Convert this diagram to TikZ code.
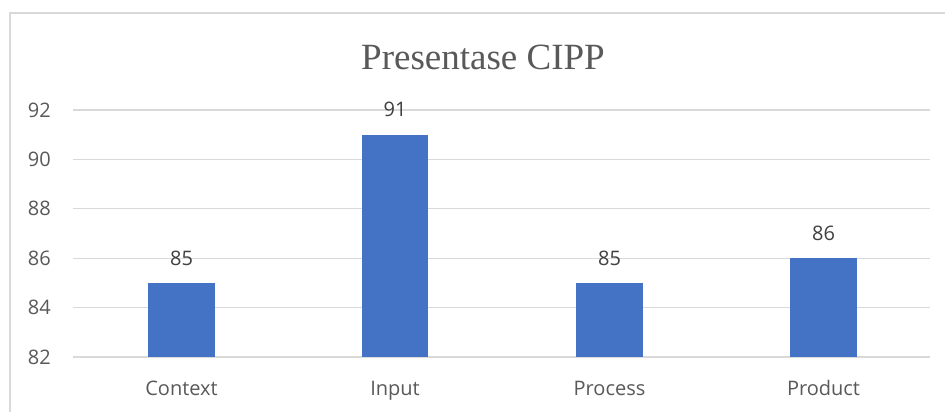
\documentclass[tikz,border=0pt]{standalone}
\usepackage{fontspec}
\setmainfont{Open Sans}
\newfontfamily\titlefont{Liberation Serif}
\definecolor{barblue}{HTML}{4472C4}
\definecolor{gridgray}{HTML}{D9D9D9}
\definecolor{txtgray}{HTML}{595959}
\definecolor{valgray}{HTML}{404040}
\begin{document}
\begin{tikzpicture}[x=1pt,y=-1pt,
  gridline/.style={draw=gridgray,line width=1.3pt},
  bar/.style={fill=barblue,draw=none},
  axislabel/.style={anchor=east,text=txtgray,font=\fontsize{20}{24}\selectfont,inner sep=0pt},
  catlabel/.style={text=txtgray,font=\fontsize{20}{24}\selectfont,inner sep=0pt,text height=15pt,text depth=5pt},
  vallabel/.style={text=valgray,font=\fontsize{20}{24}\selectfont,inner sep=0pt}]
\useasboundingbox (0,0) rectangle (945,412);
\fill[white] (0,0) rectangle (945,412);
% chart frame
\draw[gridgray,line width=1.2pt] (10,412) -- (10,13) -- (945,13);
% title
\node[text=txtgray,font=\titlefont\fontsize{37}{40}\selectfont,inner sep=0pt] (title) at (483,57) {Presentase CIPP};
% gridlines and axis labels
\foreach \v/\y in {92/110,90/159.4,88/208.8,86/258.2,84/307.6,82/357} {
  \draw[gridline] (73,\y) -- (930,\y);
  \node[axislabel] (ax\v) at (51,\y) {\v};
}
% bars
\fill[bar] (148,283.1) rectangle (215,357);
\fill[bar] (362,134.7) rectangle (428,357);
\fill[bar] (576,283.1) rectangle (643,357);
\fill[bar] (790,258.2) rectangle (857,357);
% value labels
\node[vallabel] (v1) at (181.5,258) {85};
\node[vallabel] (v2) at (395,109) {91};
\node[vallabel] (v3) at (609.5,258) {85};
\node[vallabel] (v4) at (823.5,233) {86};
% category labels
\node[catlabel] (c1) at (181.5,390) {Context};
\node[catlabel] (c2) at (395,390) {Input};
\node[catlabel] (c3) at (609.5,390) {Process};
\node[catlabel] (c4) at (823.5,390) {Product};
\end{tikzpicture}
\end{document}
